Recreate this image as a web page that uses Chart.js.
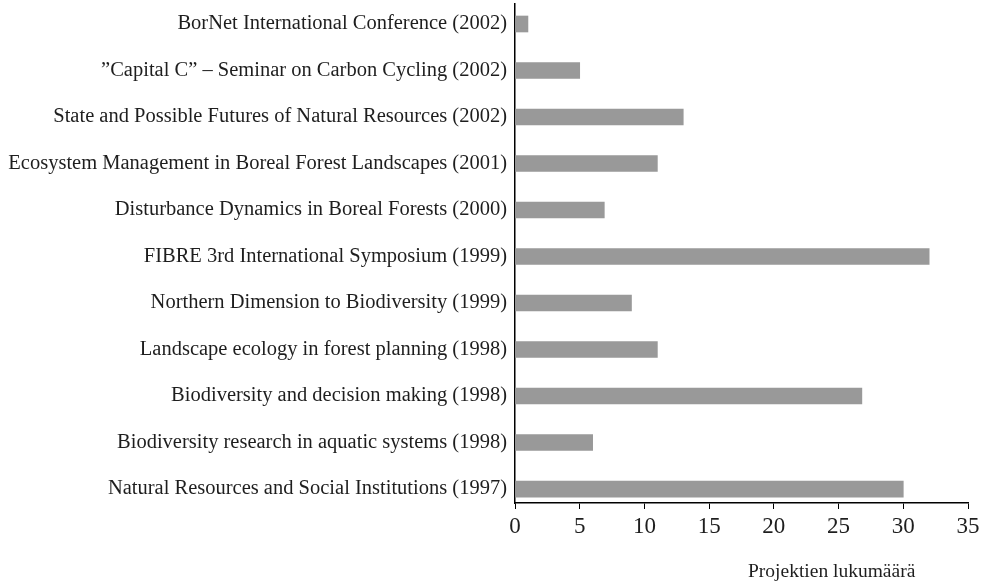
<!DOCTYPE html>
<html>
<head>
<meta charset="utf-8">
<script src="https://cdn.jsdelivr.net/npm/chart.js@4/dist/chart.umd.min.js"></script>
<style>
  html, body { margin: 0; padding: 0; background: #fff; }
  #wrap { position: relative; width: 987px; height: 587px; }
  #axisTitle {
    position: absolute; left: 748px; top: 561px;
    font: 19.5px "Liberation Serif", serif; color: #1e1e1e; line-height: 1;
  }
</style>
</head>
<body>
<div id="wrap">
  <canvas id="chart" width="987" height="587"></canvas>
  <div id="axisTitle">Projektien lukumäärä</div>
</div>
<script>
const categories = [
  "BorNet International Conference (2002)",
  "\u201DCapital C\u201D \u2013 Seminar on Carbon Cycling (2002)",
  "State and Possible Futures of Natural Resources (2002)",
  "Ecosystem Management in Boreal Forest Landscapes (2001)",
  "Disturbance Dynamics in Boreal Forests (2000)",
  "FIBRE 3rd International Symposium (1999)",
  "Northern Dimension to Biodiversity (1999)",
  "Landscape ecology in forest planning (1998)",
  "Biodiversity and decision making (1998)",
  "Biodiversity research in aquatic systems (1998)",
  "Natural Resources and Social Institutions (1997)"
];
const projectCounts = [1, 5, 13, 11, 6.9, 32, 9, 11, 26.8, 6, 30];
const xTicks = [0, 5, 10, 15, 20, 25, 30, 35];

const serif = '"Liberation Serif", "Times New Roman", serif';

new Chart(document.getElementById("chart"), {
  type: "bar",
  data: {
    datasets: [{
      data: projectCounts.map((v, i) => ({ x: v, y: i })),
      backgroundColor: "#999999",
      borderWidth: 0,
      barThickness: 16
    }]
  },
  options: {
    indexAxis: "y",
    responsive: false,
    animation: false,
    layout: { padding: { top: 4, right: 19, bottom: 48, left: 0 } },
    plugins: { legend: { display: false }, tooltip: { enabled: false } },
    scales: {
      y: {
        type: "linear",
        reverse: true,
        offset: false,
        min: -0.43,
        max: 10.3,
        grid: { display: false, drawTicks: false, offset: false },
        border: { display: true, color: "#000", width: 1.5 },
        ticks: {
          stepSize: 1,
          includeBounds: false,
          autoSkip: false,
          maxTicksLimit: 20,
          padding: 8,
          color: "#1e1e1e",
          font: { family: serif, size: 20.5 },
          callback: (v) => categories[v]
        },
        afterFit: (s) => { s.width = 515; s.paddingTop = 0; s.paddingBottom = 0; }
      },
      x: {
        type: "linear",
        min: 0,
        max: 35,
        grid: { drawOnChartArea: false, drawTicks: true, tickLength: 6, color: "#000" },
        border: { display: true, color: "#000", width: 1.5 },
        afterBuildTicks: (s) => { s.ticks = xTicks.map((v) => ({ value: v })); },
        ticks: {
          padding: 4,
          color: "#1e1e1e",
          font: { family: serif, size: 23 }
        },
        afterFit: (s) => { s.height = 36; }
      }
    }
  }
});
</script>
</body>
</html>
